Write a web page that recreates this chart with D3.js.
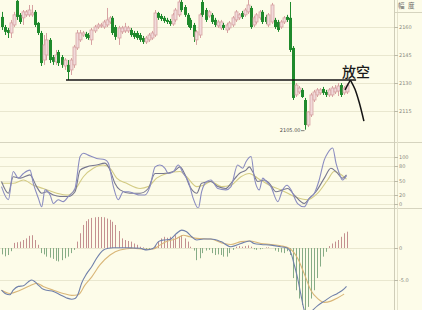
<!DOCTYPE html>
<html><head><meta charset="utf-8">
<script src="https://cdn.jsdelivr.net/npm/d3@7"></script>
<style>
html,body{margin:0;padding:0;background:#fdfce9;}
svg{display:block;}
</style></head><body>
<svg id="chart" width="422" height="310"></svg>
<script>
// ---- price bars: [open, high, low, close] ----
const ohlc = [
[2165.4,2168.1,2158.4,2160.0],[2160.0,2161.1,2155.7,2157.4],[2158.4,2159.5,2154.1,2156.8],[2156.8,2163.8,2154.1,2162.2],
[2161.1,2168.1,2160.0,2166.5],[2174.0,2174.5,2163.8,2165.4],[2166.5,2167.5,2161.6,2162.7],[2164.9,2169.1,2161.1,2168.1],
[2166.5,2169.1,2165.4,2168.1],[2166.5,2171.8,2165.4,2169.1],[2166.5,2171.8,2165.4,2167.5],[2168.1,2169.1,2160.0,2161.1],
[2162.2,2162.7,2155.7,2156.8],[2156.8,2157.9,2139.1,2140.7],[2142.3,2155.7,2139.7,2150.4],[2145.0,2156.8,2142.3,2153.1],
[2153.1,2154.1,2140.7,2142.3],[2143.9,2145.0,2139.7,2141.3],[2141.3,2147.7,2139.7,2145.0],[2146.6,2147.7,2139.1,2140.7],
[2143.9,2145.0,2138.1,2139.7],[2139.1,2143.4,2137.0,2142.3],[2139.7,2142.3,2131.6,2135.9],[2137.0,2143.4,2134.3,2142.3],
[2139.7,2150.4,2138.1,2149.3],[2148.8,2158.4,2147.7,2156.8],[2153.1,2158.4,2152.0,2156.8],[2155.7,2157.9,2154.7,2156.8],
[2156.3,2157.4,2153.6,2154.7],[2155.7,2156.8,2153.1,2154.1],[2153.1,2159.5,2150.4,2158.4],[2157.9,2161.1,2156.8,2160.0],
[2160.0,2162.2,2159.0,2161.1],[2160.6,2162.2,2159.5,2161.1],[2160.0,2163.8,2159.0,2162.7],[2161.1,2170.2,2160.0,2163.8],
[2162.7,2165.9,2161.6,2164.9],[2164.9,2165.9,2155.7,2156.8],[2160.0,2161.1,2153.1,2154.7],[2154.1,2160.6,2150.4,2159.5],
[2157.4,2160.6,2156.3,2159.5],[2157.9,2162.2,2156.8,2160.0],[2157.9,2160.6,2156.8,2159.5],[2158.4,2159.5,2154.7,2155.7],
[2156.8,2157.9,2153.6,2154.7],[2156.8,2157.9,2153.1,2154.1],[2155.7,2156.8,2152.0,2153.1],[2154.1,2155.2,2150.9,2152.0],
[2152.0,2155.2,2150.9,2154.1],[2153.1,2156.8,2152.0,2155.7],[2154.1,2157.9,2153.1,2156.8],[2155.7,2169.1,2154.7,2167.5],
[2167.5,2168.1,2163.8,2164.9],[2165.9,2167.0,2163.2,2164.3],[2164.9,2165.9,2162.2,2163.2],[2163.8,2164.9,2161.6,2162.7],
[2163.2,2164.3,2160.6,2161.6],[2161.6,2167.5,2160.6,2166.5],[2163.8,2170.2,2162.7,2169.1],[2166.5,2174.5,2165.4,2173.4],
[2173.4,2174.5,2168.1,2169.1],[2170.7,2171.8,2165.4,2166.5],[2166.5,2167.5,2160.0,2161.1],[2163.8,2164.9,2158.4,2159.5],
[2161.1,2162.2,2152.0,2154.7],[2153.1,2158.4,2150.4,2157.4],[2155.7,2167.5,2154.1,2166.5],[2173.4,2174.5,2165.4,2166.5],
[2169.1,2170.2,2162.7,2163.8],[2165.9,2169.1,2164.9,2168.1],[2166.5,2167.5,2161.6,2162.7],[2163.8,2164.9,2160.0,2161.1],
[2160.6,2163.8,2159.5,2162.7],[2159.5,2163.8,2158.4,2162.7],[2161.1,2162.2,2158.4,2159.5],[2158.4,2162.2,2156.8,2161.1],
[2159.5,2163.2,2158.4,2162.2],[2161.1,2165.9,2160.0,2164.9],[2163.8,2169.1,2162.7,2168.1],[2164.9,2167.5,2163.8,2166.5],
[2167.5,2168.6,2164.3,2165.4],[2166.5,2170.2,2165.4,2169.1],[2168.1,2174.5,2167.0,2171.8],[2170.2,2171.3,2159.0,2160.0],
[2161.1,2165.9,2160.0,2164.9],[2162.7,2167.5,2161.6,2166.5],[2164.9,2169.1,2163.8,2168.1],[2168.1,2169.1,2161.6,2162.7],
[2165.4,2166.5,2161.6,2162.7],[2161.1,2167.5,2160.0,2166.5],[2162.7,2172.9,2161.6,2171.8],[2163.8,2164.9,2159.0,2160.0],
[2162.7,2163.8,2157.4,2158.4],[2160.0,2163.8,2159.0,2162.7],[2162.7,2165.9,2161.6,2164.9],[2165.4,2166.5,2162.7,2163.8],
[2164.9,2173.4,2146.6,2147.7],[2148.8,2149.8,2120.9,2122.0],[2123.6,2130.0,2122.5,2128.9],[2125.2,2128.4,2124.1,2127.3],
[2126.3,2127.3,2122.0,2122.5],[2120.9,2122.0,2105.0,2107.5],[2107.5,2115.0,2106.4,2114.5],[2112.9,2124.7,2111.8,2123.6],
[2120.9,2126.3,2119.8,2125.2],[2123.6,2127.3,2122.5,2126.3],[2124.7,2127.3,2123.6,2126.3],[2126.8,2127.9,2123.6,2124.7],
[2125.2,2126.3,2122.5,2123.6],[2123.6,2127.3,2122.5,2126.3],[2123.6,2128.4,2122.5,2127.3],[2125.2,2128.9,2124.1,2127.3],
[2125.7,2130.0,2123.0,2128.4],[2128.9,2130.0,2122.5,2123.6],[2124.7,2128.4,2123.6,2127.3],[2125.2,2130.0,2124.1,2128.9]
];
const priceTicks = [2160, 2145, 2130, 2115];
const tickLabels = ["2160", "2145", "2130", "2115"];
const supportLevel = 2131.6;      // low of bar 22, extended to the right
const supportSpan = [21.5, 118.2];
const lowIndex = 101, lowValue = 2105.0, lowText = "2105.00";
const shortText = "放空";
const shortTextAt = [118.2, 2136.2];
const arrowUp = [[114.5, 2126.3], [116.3, 2131.6]];
const arrowDown = [[116.3, 2131.6], [117.8, 2126.8], [119.2, 2119.8], [120.8, 2109.6]];

// ---- KDJ (index, value) ----
const kdjTicks = [100, 80, 50, 20, 0];
const jLine = [[0,37],[2.3,9],[3.9,69],[5.6,55],[7.3,65],[9.5,72],[10.6,44],[12.3,12],[13.4,-6],[14.5,30],[16.2,19],[17.3,1],[18.9,9],[20.6,5],[22.3,16],[24.5,33],[26.2,101],[27.3,108],[28.9,104],[31.7,97],[34.5,94],[35.6,87],[37.3,37],[38.9,9],[40.6,26],[42.3,26],[43.9,23],[46.2,19],[47.8,19],[49.5,37],[51.2,79],[52.8,83],[54.5,76],[55.6,65],[57.3,69],[58.9,83],[60.6,65],[62.3,48],[63.9,12],[65.6,-9],[66.7,26],[68.4,48],[69.8,51],[72.1,33],[74.8,30],[76.5,37],[78.7,83],[80.4,76],[81.5,90],[83.2,101],[84.3,55],[85.9,30],[87.1,55],[88.2,48],[89.8,37],[92.1,5],[93.7,30],[95.2,40],[96.5,30],[98.7,1],[100.9,-6],[102.6,12],[104.3,23],[105.9,51],[107.6,94],[108.7,108],[110.4,119],[111.5,87],[112.6,65],[113.7,51],[115,60]];
const kLine = [[0,48],[2.3,23],[3.9,58],[6.2,55],[9.5,62],[11.7,37],[13.4,23],[15.1,26],[17.3,19],[19.5,16],[22.3,16],[24.5,26],[26.2,72],[28.4,79],[31.7,83],[34.5,87],[36.2,72],[37.8,44],[39.5,30],[42.8,23],[46.2,23],[48.9,33],[51.2,65],[53.9,65],[57.3,69],[59.5,79],[61.2,62],[62.8,37],[65.1,23],[66.7,44],[69.8,48],[72.1,37],[74.8,33],[76.5,44],[79.3,65],[81.5,72],[82.6,79],[83.7,69],[85.4,48],[87.6,51],[89.3,44],[91.5,26],[93.7,30],[95.4,33],[97.6,19],[100.9,1],[102.6,12],[104.8,26],[107.6,55],[109.8,76],[111.5,69],[113.7,55],[115,62]];
const dLine = [[0,44],[3.9,44],[7.3,51],[10.6,40],[13.9,33],[18.4,23],[22.3,19],[24.5,30],[27.3,58],[30.6,76],[33.9,83],[36.2,76],[38.4,55],[41.7,44],[46.2,33],[48.9,37],[51.7,55],[55.1,65],[59.5,69],[61.7,58],[65.1,37],[67.3,40],[69.8,48],[73.3,37],[76.5,40],[79.8,58],[82.6,65],[85.4,55],[89.3,40],[93.2,30],[97.6,16],[102,9],[105.4,23],[108.7,51],[110.9,69],[112.6,65],[115,53]];

// ---- MACD ----
const macdTicks = [0, -5];
const macdTickLabels = ["0", "-5.0"];
const macdHist = [
-1.0,-1.3,-1.1,-0.5,0.8,0.9,1.0,1.25,1.5,1.9,
2.0,1.25,0.5,-0.8,-1.0,-1.35,-1.5,-1.7,-2.0,-2.1,
-1.9,-1.6,-1.35,-0.8,-0.3,1.0,2.3,3.6,4.2,4.5,
4.7,4.8,4.85,4.85,4.8,4.6,4.4,4.1,3.6,2.65,
1.5,1.25,1.1,1.0,0.7,0.5,0.2,0.1,-0.2,-0.3,
-0.2,0.3,1.0,1.5,1.75,1.6,1.75,1.5,2.0,1.75,
2.0,1.5,1.0,0.2,-0.4,-1.9,-1.6,-0.8,-0.4,-0.3,
-0.8,-1.1,-1.0,-1.1,-1.35,-1.35,-0.8,-0.3,0.2,0.3,
0.2,0.3,0.4,0.2,-0.2,-0.3,-0.2,-0.1,0.1,0.1,
0.0,-0.4,-0.6,-0.7,-0.8,-0.5,-1.1,-4.7,-6.6,-7.9,
-8.9,-9.7,-9.2,-7.9,-6.6,-4.7,-2.9,-1.35,-0.6,0.3,
0.7,1.0,1.25,1.75,2.3,2.55];
const difLine = [[0,-6.6],[1.2,-7.1],[2.8,-7.3],[3.9,-6.6],[5.6,-6.0],[7.3,-5.9],[8.9,-5.3],[10.1,-5.0],[11.2,-5.3],[12.3,-5.8],[13.4,-6.3],[15.1,-6.6],[17.3,-6.8],[19.5,-7.3],[21.7,-7.8],[23.4,-8.0],[24.5,-7.9],[25.6,-7.1],[26.7,-5.5],[28.4,-4.0],[30.1,-2.9],[31.7,-1.6],[34,-0.3],[35.6,-0.05],[37.3,0.05],[39.5,0.05],[41.7,0.05],[43.9,0],[46.2,-0.05],[48.4,-0.3],[50.6,-0.05],[52.3,1.0],[54,1.25],[56.2,1.35],[58.4,2.3],[60.1,2.8],[61.7,2.55],[63.4,1.75],[65.1,1.25],[67.3,1.4],[69.8,1.4],[73.1,1.0],[76.5,0.2],[79.8,0.7],[82.6,1.1],[84.2,0.7],[86.5,0.55],[89.8,0.45],[93.1,0.2],[95.4,-0.05],[96.5,-0.8],[97.6,-2.65],[98.7,-4.7],[99.8,-7.3],[100.9,-9.7],[102,-10.5],[103.1,-10.0],[105.4,-9.0],[107.6,-8.3],[109.8,-7.6],[112,-7.1],[114.2,-6.4],[115,-6.0]];
const deaLine = [[0,-6.6],[2.8,-7.1],[6.2,-6.6],[9.5,-5.9],[11.7,-5.5],[13.9,-6.0],[17.3,-6.6],[20.6,-7.1],[23.4,-7.4],[25.6,-7.3],[27.8,-5.8],[30.1,-4.5],[32.8,-2.65],[36.2,-1.1],[39.5,-0.3],[43.9,-0.05],[47.3,-0.2],[50.6,-0.15],[52.8,0.45],[55,1.0],[58.4,1.5],[60.6,2.0],[62.8,1.75],[65.1,1.5],[69.8,1.4],[74.2,0.7],[76.5,0.55],[79.8,1.0],[82.6,1.1],[86.5,0.7],[89.8,0.55],[93.1,0.35],[95.9,-0.05],[98.7,-1.6],[100.9,-4.0],[103.1,-6.6],[105.4,-7.9],[107.6,-8.5],[109.8,-8.3],[112,-7.8],[114.2,-7.2]];

// ---- layout ----
const W = 422, H = 310, plotRight = 395;
const panels = {
  price: {top: 0, bottom: 142},
  kdj:   {top: 143, bottom: 208},
  macd:  {top: 209, bottom: 310}
};
const svg = d3.select("#chart");
const x = d3.scaleLinear().domain([0, ohlc.length - 1]).range([1.5, 346.5]);
const yP = d3.scaleLinear().domain([2115, 2160]).range([111, 27]);
const yK = d3.scaleLinear().domain([0, 100]).range([204, 157]);
const yM = d3.scaleLinear().domain([-5, 0]).range([280, 248]);

svg.append("rect").attr("width", W).attr("height", H).attr("fill", "#fdfce9");

const defs = svg.append("defs");
Object.entries(panels).forEach(([k, p]) => {
  defs.append("clipPath").attr("id", "clip-" + k)
    .append("rect").attr("x", 0).attr("y", p.top).attr("width", plotRight).attr("height", p.bottom - p.top);
});

const gridColor = "#e9e7cf";
function grid(ticks, scale) {
  svg.append("g").selectAll("line").data(ticks).join("line")
    .attr("x1", 0).attr("x2", plotRight)
    .attr("y1", d => Math.round(scale(d)) + 0.5).attr("y2", d => Math.round(scale(d)) + 0.5)
    .attr("stroke", gridColor).attr("stroke-width", 1);
}
grid(priceTicks, yP);
grid(kdjTicks, yK);
grid(macdTicks, yM);

// panel frames
[142.5, 208.5].forEach(yy => svg.append("line").attr("x1", 0).attr("x2", W)
  .attr("y1", yy).attr("y2", yy).attr("stroke", "#d6d4bf"));
svg.append("line").attr("x1", plotRight - 0.5).attr("x2", plotRight - 0.5).attr("y1", 0).attr("y2", H).attr("stroke", "#cfcdb8");
svg.append("line").attr("x1", plotRight + 2.5).attr("x2", plotRight + 2.5).attr("y1", 0).attr("y2", H).attr("stroke", "#e4e2cc");
svg.append("line").attr("x1", plotRight).attr("x2", W).attr("y1", 12.5).attr("y2", 12.5).attr("stroke", "#d6d4bf");

// right-axis tick labels
function axisLabels(ticks, labels, scale) {
  const g = svg.append("g");
  ticks.forEach((t, i) => {
    const yy = Math.round(scale(t)) + 0.5;
    g.append("line").attr("x1", plotRight - 1).attr("x2", plotRight + 3).attr("y1", yy).attr("y2", yy).attr("stroke", "#bdbba8");
    g.append("text").attr("x", plotRight + 4).attr("y", yy).attr("dy", "0.35em")
      .attr("font-family", "DejaVu Sans, sans-serif").attr("font-size", 5).attr("fill", "#8a8a80").text(labels[i]);
  });
}
axisLabels(priceTicks, tickLabels, yP);
axisLabels(kdjTicks, kdjTicks.map(String), yK);
axisLabels(macdTicks, macdTickLabels, yM);

// header marks at top right
svg.append("text").attr("x", plotRight + 3).attr("y", 8).attr("font-family", "Noto Sans CJK SC").attr("font-size", 6.5).attr("fill", "#6a6a66").text("幅");
svg.append("text").attr("x", plotRight + 13).attr("y", 8).attr("font-family", "Noto Sans CJK SC").attr("font-size", 6.5).attr("fill", "#6a6a66").text("度");

// ---- candles ----
const gC = svg.append("g").attr("clip-path", "url(#clip-price)");
const upColor = "#d7a2a2", downColor = "#1f8a2c";
ohlc.forEach((d, i) => {
  const [o, h, l, c] = d;
  const cx = Math.round(x(i)) + 0.5;
  const up = c >= o;
  const col = up ? upColor : downColor;
  gC.append("line").attr("x1", cx).attr("x2", cx).attr("y1", yP(h)).attr("y2", yP(l))
    .attr("stroke", col).attr("stroke-width", 1);
  const top = yP(Math.max(o, c)), bot = yP(Math.min(o, c));
  gC.append("rect").attr("x", cx - 1.5).attr("y", top).attr("width", 3).attr("height", Math.max(1, bot - top))
    .attr("fill", up ? "#f1dada" : downColor).attr("stroke", col).attr("stroke-width", up ? 0.8 : 0);
});

// support line, low marker, arrow and note
svg.append("line").attr("x1", x(supportSpan[0])).attr("x2", x(supportSpan[1]))
  .attr("y1", yP(supportLevel)).attr("y2", yP(supportLevel))
  .attr("stroke", "#141414").attr("stroke-width", 1.7);
svg.append("text").attr("x", x(lowIndex) - 4).attr("y", yP(lowValue) + 1).attr("dy", "0.35em")
  .attr("text-anchor", "end").attr("font-family", "DejaVu Sans, sans-serif").attr("font-size", 5).attr("fill", "#4a4a4a").text(lowText);
svg.append("line").attr("x1", x(lowIndex) - 3.5).attr("x2", x(lowIndex)).attr("y1", yP(lowValue) + 1).attr("y2", yP(lowValue) + 1)
  .attr("stroke", "#4a4a4a").attr("stroke-width", 0.7);

const lineP = d3.line().x(d => x(d[0])).y(d => yP(d[1]));
svg.append("path").attr("d", lineP(arrowUp)).attr("fill", "none").attr("stroke", "#141414").attr("stroke-width", 1.5);
svg.append("path").attr("d", lineP.curve(d3.curveCatmullRom)(arrowDown)).attr("fill", "none").attr("stroke", "#141414").attr("stroke-width", 1.5);
svg.append("text").attr("x", x(shortTextAt[0])).attr("y", yP(shortTextAt[1])).attr("dy", "0.38em")
  .attr("text-anchor", "middle").attr("font-family", "Noto Sans CJK SC").attr("font-weight", 500)
  .attr("font-size", 14).attr("fill", "#1a1a1a").text(shortText);

// ---- KDJ ----
const gK = svg.append("g").attr("clip-path", "url(#clip-kdj)");
const lineK = d3.line().x(d => x(d[0])).y(d => yK(d[1])).curve(d3.curveMonotoneX);
[[dLine, "#d3cb84"], [kLine, "#77778f"], [jLine, "#8a8cc0"]].forEach(([data, col]) => {
  gK.append("path").attr("d", lineK(data)).attr("fill", "none").attr("stroke", col).attr("stroke-width", 1.1);
});

// ---- MACD ----
const gM = svg.append("g").attr("clip-path", "url(#clip-macd)");
macdHist.forEach((v, i) => {
  const cx = Math.round(x(i)) + 0.5;
  gM.append("line").attr("x1", cx).attr("x2", cx).attr("y1", yM(0)).attr("y2", yM(v))
    .attr("stroke", v >= 0 ? "#c49090" : "#86ac86").attr("stroke-width", 1);
});
const lineM = d3.line().x(d => x(d[0])).y(d => yM(d[1])).curve(d3.curveMonotoneX);
gM.append("path").attr("d", lineM(deaLine)).attr("fill", "none").attr("stroke", "#d9b678").attr("stroke-width", 1.1);
gM.append("path").attr("d", lineM(difLine)).attr("fill", "none").attr("stroke", "#7080aa").attr("stroke-width", 1.1);
</script>
</body></html>
